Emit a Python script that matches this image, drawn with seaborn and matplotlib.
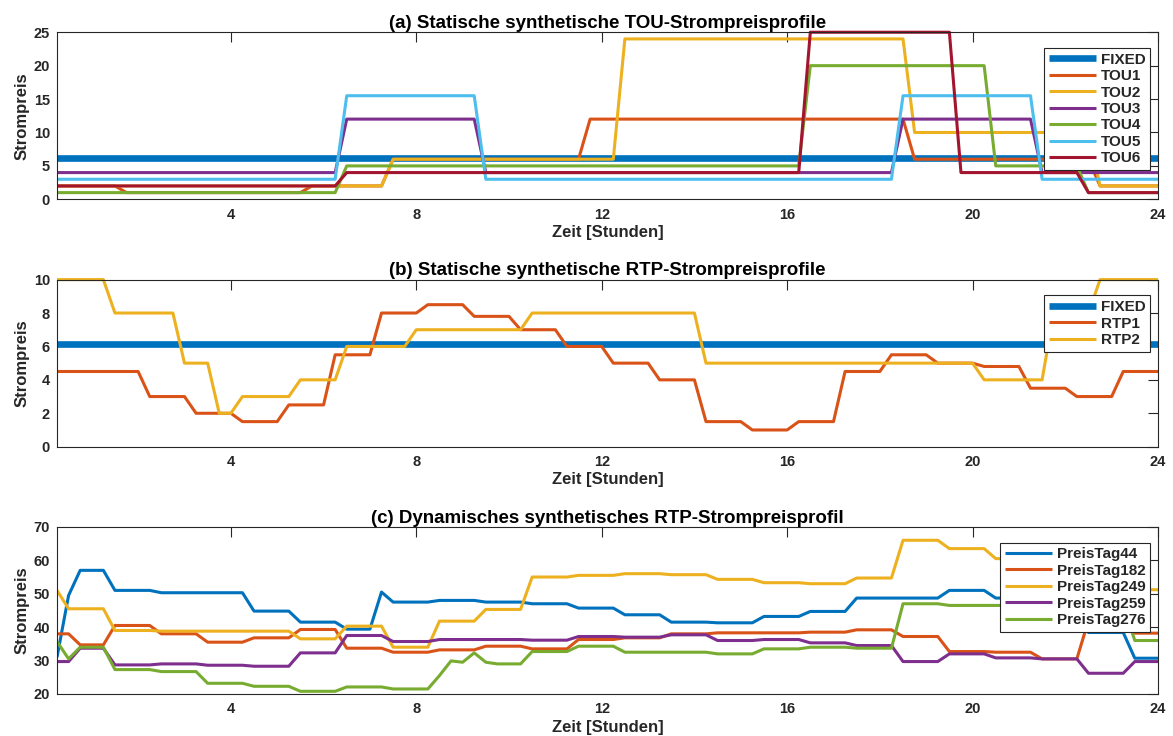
import numpy as np
import pandas as pd
import matplotlib
matplotlib.use("Agg")
import matplotlib.pyplot as plt
import seaborn as sns

# time axis: 15-minute slots from 0.25 h to 24 h
HOURS = np.arange(1, 97) * 0.25

# ---------------- (a) TOU profiles ----------------
FIXED_PRICE = 6.12
TOU1 = [2, 2, 2, 2, 2, 2, 1, 1,
        1, 1, 1, 1, 1, 1, 1, 1,
        1, 1, 1, 1, 1, 1, 2, 2,
        2, 2, 2, 2, 2, 6, 6, 6,
        6, 6, 6, 6, 6, 6, 6, 6,
        6, 6, 6, 6, 6, 6, 12, 12,
        12, 12, 12, 12, 12, 12, 12, 12,
        12, 12, 12, 12, 12, 12, 12, 12,
        12, 12, 12, 12, 12, 12, 12, 12,
        12, 12, 6, 6, 6, 6, 6, 6,
        6, 6, 6, 6, 6, 6, 6, 6,
        6, 6, 2, 2, 2, 2, 2, 2]
TOU2 = [2, 2, 2, 2, 2, 2, 2, 2,
        2, 2, 2, 2, 2, 2, 2, 2,
        2, 2, 2, 2, 2, 2, 2, 2,
        2, 2, 2, 2, 2, 6, 6, 6,
        6, 6, 6, 6, 6, 6, 6, 6,
        6, 6, 6, 6, 6, 6, 6, 6,
        6, 24, 24, 24, 24, 24, 24, 24,
        24, 24, 24, 24, 24, 24, 24, 24,
        24, 24, 24, 24, 24, 24, 24, 24,
        24, 24, 10, 10, 10, 10, 10, 10,
        10, 10, 10, 10, 10, 10, 10, 10,
        10, 10, 2, 2, 2, 2, 2, 2]
TOU3 = [4, 4, 4, 4, 4, 4, 4, 4,
        4, 4, 4, 4, 4, 4, 4, 4,
        4, 4, 4, 4, 4, 4, 4, 4,
        4, 12, 12, 12, 12, 12, 12, 12,
        12, 12, 12, 12, 12, 4, 4, 4,
        4, 4, 4, 4, 4, 4, 4, 4,
        4, 4, 4, 4, 4, 4, 4, 4,
        4, 4, 4, 4, 4, 4, 4, 4,
        4, 4, 4, 4, 4, 4, 4, 4,
        4, 12, 12, 12, 12, 12, 12, 12,
        12, 12, 12, 12, 12, 4, 4, 4,
        4, 4, 4, 4, 4, 4, 4, 4]
TOU4 = [1, 1, 1, 1, 1, 1, 1, 1,
        1, 1, 1, 1, 1, 1, 1, 1,
        1, 1, 1, 1, 1, 1, 1, 1,
        1, 5, 5, 5, 5, 5, 5, 5,
        5, 5, 5, 5, 5, 5, 5, 5,
        5, 5, 5, 5, 5, 5, 5, 5,
        5, 5, 5, 5, 5, 5, 5, 5,
        5, 5, 5, 5, 5, 5, 5, 5,
        5, 20, 20, 20, 20, 20, 20, 20,
        20, 20, 20, 20, 20, 20, 20, 20,
        20, 5, 5, 5, 5, 5, 5, 5,
        5, 1, 1, 1, 1, 1, 1, 1]
TOU5 = [3, 3, 3, 3, 3, 3, 3, 3,
        3, 3, 3, 3, 3, 3, 3, 3,
        3, 3, 3, 3, 3, 3, 3, 3,
        3, 15.5, 15.5, 15.5, 15.5, 15.5, 15.5, 15.5,
        15.5, 15.5, 15.5, 15.5, 15.5, 3, 3, 3,
        3, 3, 3, 3, 3, 3, 3, 3,
        3, 3, 3, 3, 3, 3, 3, 3,
        3, 3, 3, 3, 3, 3, 3, 3,
        3, 3, 3, 3, 3, 3, 3, 3,
        3, 15.5, 15.5, 15.5, 15.5, 15.5, 15.5, 15.5,
        15.5, 15.5, 15.5, 15.5, 15.5, 3, 3, 3,
        3, 3, 3, 3, 3, 3, 3, 3]
TOU6 = [2, 2, 2, 2, 2, 2, 2, 2,
        2, 2, 2, 2, 2, 2, 2, 2,
        2, 2, 2, 2, 2, 2, 2, 2,
        2, 4, 4, 4, 4, 4, 4, 4,
        4, 4, 4, 4, 4, 4, 4, 4,
        4, 4, 4, 4, 4, 4, 4, 4,
        4, 4, 4, 4, 4, 4, 4, 4,
        4, 4, 4, 4, 4, 4, 4, 4,
        4, 25, 25, 25, 25, 25, 25, 25,
        25, 25, 25, 25, 25, 25, 4, 4,
        4, 4, 4, 4, 4, 4, 4, 4,
        4, 1, 1, 1, 1, 1, 1, 1]

# ---------------- (b) RTP profiles ----------------
RTP1 = [4.5, 4.5, 4.5, 4.5, 4.5, 4.5, 4.5, 4.5,
        3, 3, 3, 3, 2, 2, 2, 2,
        1.5, 1.5, 1.5, 1.5, 2.5, 2.5, 2.5, 2.5,
        5.5, 5.5, 5.5, 5.5, 8, 8, 8, 8,
        8.5, 8.5, 8.5, 8.5, 7.8, 7.8, 7.8, 7.8,
        7, 7, 7, 7, 6, 6, 6, 6,
        5, 5, 5, 5, 4, 4, 4, 4,
        1.5, 1.5, 1.5, 1.5, 1, 1, 1, 1,
        1.5, 1.5, 1.5, 1.5, 4.5, 4.5, 4.5, 4.5,
        5.5, 5.5, 5.5, 5.5, 5, 5, 5, 5,
        4.8, 4.8, 4.8, 4.8, 3.5, 3.5, 3.5, 3.5,
        3, 3, 3, 3, 4.5, 4.5, 4.5, 4.5]
RTP2 = [10, 10, 10, 10, 10, 8, 8, 8,
        8, 8, 8, 5, 5, 5, 2, 2,
        3, 3, 3, 3, 3, 4, 4, 4,
        4, 6, 6, 6, 6, 6, 6, 7,
        7, 7, 7, 7, 7, 7, 7, 7,
        7, 8, 8, 8, 8, 8, 8, 8,
        8, 8, 8, 8, 8, 8, 8, 8,
        5, 5, 5, 5, 5, 5, 5, 5,
        5, 5, 5, 5, 5, 5, 5, 5,
        5, 5, 5, 5, 5, 5, 5, 5,
        4, 4, 4, 4, 4, 4, 8, 8,
        8, 8, 10, 10, 10, 10, 10, 10]

# ---------------- (c) dynamic RTP days ----------------
TAG44 = [31, 49.5, 57, 57, 57, 51, 51, 51,
         51, 50.3, 50.3, 50.3, 50.3, 50.3, 50.3, 50.3,
         50.3, 44.8, 44.8, 44.8, 44.8, 41.5, 41.5, 41.5,
         41.5, 39.4, 39.4, 39.4, 50.5, 47.5, 47.5, 47.5,
         47.5, 48, 48, 48, 48, 47.5, 47.5, 47.5,
         47.5, 47, 47, 47, 47, 45.7, 45.7, 45.7,
         45.7, 43.7, 43.7, 43.7, 43.7, 41.5, 41.5, 41.5,
         41.5, 41.3, 41.3, 41.3, 41.3, 43.2, 43.2, 43.2,
         43.2, 44.7, 44.7, 44.7, 44.7, 48.7, 48.7, 48.7,
         48.7, 48.7, 48.7, 48.7, 48.7, 51, 51, 51,
         51, 48.7, 48.7, 48.7, 48.7, 45, 45, 45,
         45, 38.4, 38.4, 38.4, 38.4, 30.7, 30.7, 30.7]
TAG182 = [38, 38, 34.7, 34.7, 34.7, 40.5, 40.5, 40.5,
          40.5, 38, 38, 38, 38, 35.5, 35.5, 35.5,
          35.5, 36.8, 36.8, 36.8, 36.8, 39.3, 39.3, 39.3,
          39.3, 33.7, 33.7, 33.7, 33.7, 32.5, 32.5, 32.5,
          32.5, 33.2, 33.2, 33.2, 33.2, 34.3, 34.3, 34.3,
          34.3, 33.5, 33.5, 33.5, 33.5, 36.3, 36.3, 36.3,
          36.3, 36.8, 36.8, 36.8, 36.8, 38, 38, 38,
          38, 38.3, 38.3, 38.3, 38.3, 38.3, 38.3, 38.3,
          38.3, 38.5, 38.5, 38.5, 38.5, 39.2, 39.2, 39.2,
          39.2, 37.2, 37.2, 37.2, 37.2, 32.7, 32.7, 32.7,
          32.7, 32.5, 32.5, 32.5, 32.5, 30.5, 30.5, 30.5,
          30.5, 42, 42, 42, 42, 38.2, 38.2, 38.2]
TAG249 = [51, 45.5, 45.5, 45.5, 45.5, 39, 39, 39,
          39, 38.8, 38.8, 38.8, 38.8, 38.8, 38.8, 38.8,
          38.8, 38.8, 38.8, 38.8, 38.8, 36.5, 36.5, 36.5,
          36.5, 40.3, 40.3, 40.3, 40.3, 34, 34, 34,
          34, 41.8, 41.8, 41.8, 41.8, 45.3, 45.3, 45.3,
          45.3, 55, 55, 55, 55, 55.5, 55.5, 55.5,
          55.5, 56, 56, 56, 56, 55.7, 55.7, 55.7,
          55.7, 54.3, 54.3, 54.3, 54.3, 53.3, 53.3, 53.3,
          53.3, 53, 53, 53, 53, 54.7, 54.7, 54.7,
          54.7, 66, 66, 66, 66, 63.5, 63.5, 63.5,
          63.5, 60.5, 60.5, 60.5, 60.5, 56, 56, 56,
          56, 53, 53, 53, 53, 51.2, 51.2, 51.2]
TAG259 = [29.7, 29.7, 33.7, 33.7, 33.7, 28.7, 28.7, 28.7,
          28.7, 29, 29, 29, 29, 28.6, 28.6, 28.6,
          28.6, 28.3, 28.3, 28.3, 28.3, 32.3, 32.3, 32.3,
          32.3, 37.5, 37.5, 37.5, 37.5, 35.7, 35.7, 35.7,
          35.7, 36.3, 36.3, 36.3, 36.3, 36.3, 36.3, 36.3,
          36.3, 36.1, 36.1, 36.1, 36.1, 37.2, 37.2, 37.2,
          37.2, 37, 37, 37, 37, 37.7, 37.7, 37.7,
          37.7, 36, 36, 36, 36, 36.3, 36.3, 36.3,
          36.3, 35.3, 35.3, 35.3, 35.3, 34.5, 34.5, 34.5,
          34.5, 29.7, 29.7, 29.7, 29.7, 32, 32, 32,
          32, 30.8, 30.8, 30.8, 30.8, 30.5, 30.5, 30.5,
          30.5, 26.2, 26.2, 26.2, 26.2, 29.7, 29.7, 29.7]
TAG276 = [35.7, 30.5, 34, 34, 34, 27.3, 27.3, 27.3,
          27.3, 26.7, 26.7, 26.7, 26.7, 23.2, 23.2, 23.2,
          23.2, 22.3, 22.3, 22.3, 22.3, 20.8, 20.8, 20.8,
          20.8, 22.1, 22.1, 22.1, 22.1, 21.5, 21.5, 21.5,
          21.5, 25.5, 29.9, 29.5, 32.3, 29.5, 29, 29,
          29, 32.7, 32.7, 32.7, 32.7, 34.3, 34.3, 34.3,
          34.3, 32.5, 32.5, 32.5, 32.5, 32.5, 32.5, 32.5,
          32.5, 32, 32, 32, 32, 33.5, 33.5, 33.5,
          33.5, 34, 34, 34, 34, 33.7, 33.7, 33.7,
          33.7, 47, 47, 47, 47, 46.5, 46.5, 46.5,
          46.5, 46.5, 46.5, 46.5, 46.5, 46.5, 46.5, 46.5,
          46.5, 46.5, 46.5, 46.5, 46.5, 36, 36, 36]

X_TICKS = [4, 8, 12, 16, 20, 24]
TITLES = ["(a) Statische synthetische TOU-Strompreisprofile",
          "(b) Statische synthetische RTP-Strompreisprofile",
          "(c) Dynamisches synthetisches RTP-Strompreisprofil"]
X_LABEL = "Zeit [Stunden]"
Y_LABEL = "Strompreis"

C_BLUE = "#0072BD"
C_ORANGE = "#D95319"
C_YELLOW = "#EDB120"
C_PURPLE = "#7E2F8E"
C_GREEN = "#77AC30"
C_CYAN = "#4DBEEE"
C_RED = "#A2142F"
DARK = "#262626"

sns.set_style("white")
plt.rcParams['font.family'] = ['Liberation Sans', 'DejaVu Sans']
plt.rcParams['font.weight'] = 'bold'
plt.rcParams['axes.labelweight'] = 'bold'
plt.rcParams['axes.titleweight'] = 'bold'
plt.rcParams['lines.solid_capstyle'] = 'butt'

fig = plt.figure(figsize=(11.73, 7.36), dpi=100)
LEFT, WIDTH, HEIGHT = 0.0486, 0.9386, 0.2270
ax_a = fig.add_axes([LEFT, 0.7292, WIDTH, HEIGHT])
ax_b = fig.add_axes([LEFT, 0.3931, WIDTH, HEIGHT])
ax_c = fig.add_axes([LEFT, 0.0571, WIDTH, HEIGHT])

LW = 2.2
LW_FIXED = 4.8


def style_axes(ax, ylim, yticks, title):
    ax.set_xlim(0.25, 24)
    ax.set_ylim(*ylim)
    ax.set_xticks(X_TICKS)
    ax.set_yticks(yticks)
    ax.tick_params(direction='in', length=7.5, width=0.8, top=True, right=True,
                   labelsize=10.5, colors=DARK)
    ax.tick_params(axis='x', pad=6)
    ax.tick_params(axis='y', pad=5)
    for lab in ax.get_xticklabels() + ax.get_yticklabels():
        lab.set_fontweight('bold')
    for s in ax.spines.values():
        s.set_visible(True)
        s.set_color(DARK)
        s.set_linewidth(0.8)
    ax.set_title(title, fontsize=13.5, fontweight='bold', color='black', pad=3)
    ax.set_xlabel(X_LABEL, fontsize=12, fontweight='bold', color=DARK, labelpad=2.5)
    ax.set_ylabel(Y_LABEL, fontsize=12, fontweight='bold', color=DARK, labelpad=3)


def add_legend(ax):
    handles, labels = ax.get_legend_handles_labels()
    leg = ax.legend(handles, labels, loc='upper right', bbox_to_anchor=(0.993, 0.905),
                    frameon=True, fancybox=False, edgecolor=DARK, framealpha=1,
                    prop={'weight': 'bold', 'size': 11}, handlelength=3.1,
                    handletextpad=0.3, labelspacing=0.16, borderpad=0.3,
                    borderaxespad=0)
    leg.get_frame().set_linewidth(0.8)
    leg.set_zorder(10)


# (a)
fixed_series = [FIXED_PRICE] * len(HOURS)
sns.lineplot(x=HOURS, y=fixed_series, ax=ax_a, color=C_BLUE, linewidth=LW_FIXED, label="FIXED")
for name, vals, col in [("TOU1", TOU1, C_ORANGE), ("TOU2", TOU2, C_YELLOW), ("TOU3", TOU3, C_PURPLE),
                        ("TOU4", TOU4, C_GREEN), ("TOU5", TOU5, C_CYAN), ("TOU6", TOU6, C_RED)]:
    sns.lineplot(x=HOURS, y=vals, ax=ax_a, color=col, linewidth=LW, label=name, clip_on=False)
style_axes(ax_a, (0, 25), [0, 5, 10, 15, 20, 25], TITLES[0])
add_legend(ax_a)

# (b)
sns.lineplot(x=HOURS, y=fixed_series, ax=ax_b, color=C_BLUE, linewidth=LW_FIXED, label="FIXED")
sns.lineplot(x=HOURS, y=RTP1, ax=ax_b, color=C_ORANGE, linewidth=LW, label="RTP1", clip_on=False)
sns.lineplot(x=HOURS, y=RTP2, ax=ax_b, color=C_YELLOW, linewidth=LW, label="RTP2", clip_on=False)
style_axes(ax_b, (0, 10), [0, 2, 4, 6, 8, 10], TITLES[1])
add_legend(ax_b)

# (c)
names_c = ["PreisTag44", "PreisTag182", "PreisTag249", "PreisTag259", "PreisTag276"]
series_c = [TAG44, TAG182, TAG249, TAG259, TAG276]
df_c = pd.DataFrame({
    "Zeit": np.concatenate([HOURS] * len(names_c)),
    "Preis": np.concatenate([np.asarray(s, dtype=float) for s in series_c]),
    "Tag": np.repeat(names_c, len(HOURS)),
})
sns.lineplot(data=df_c, x="Zeit", y="Preis", hue="Tag", hue_order=names_c,
             palette=[C_BLUE, C_ORANGE, C_YELLOW, C_PURPLE, C_GREEN],
             linewidth=LW, ax=ax_c, estimator=None)
style_axes(ax_c, (20, 70), [20, 30, 40, 50, 60, 70], TITLES[2])
add_legend(ax_c)

fig.savefig("out.png", dpi=100)
